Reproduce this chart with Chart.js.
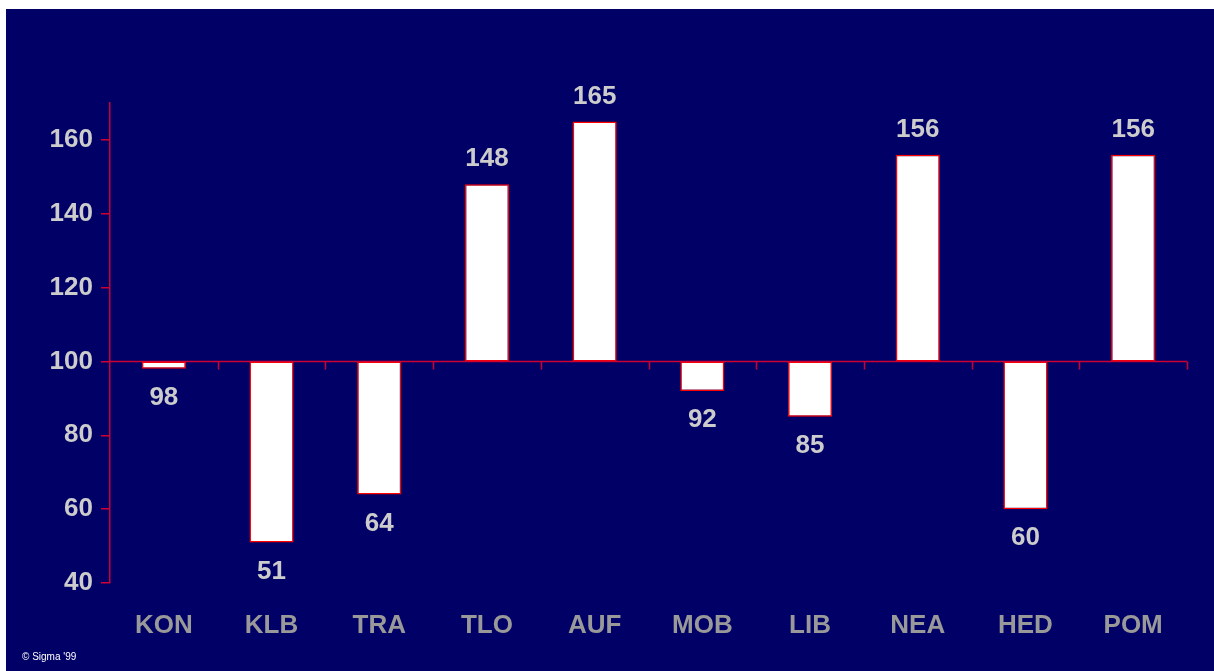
<!DOCTYPE html>
<html>
<head>
<meta charset="utf-8">
<script src="https://cdn.jsdelivr.net/npm/chart.js@4"></script>
<style>
html,body{margin:0;padding:0;background:#ffffff;width:1214px;height:671px;overflow:hidden;}
#wrap{position:absolute;left:6px;top:9px;width:1208px;height:662px;background:#000066;}
canvas{display:block;}
#copy{position:absolute;left:16px;top:642px;color:#ffffff;font:10px "Liberation Sans",Arial,sans-serif;}
</style>
</head>
<body>
<div id="wrap"><canvas id="c" width="1208" height="662"></canvas>
<div id="copy">© Sigma '99</div></div>
<script>
const categories = ['KON','KLB','TRA','TLO','AUF','MOB','LIB','NEA','HED','POM'];
const values = [98, 51, 64, 148, 165, 92, 85, 156, 60, 156];
const baseValue = 100;
const yTicks = [40, 60, 80, 100, 120, 140, 160];

const axisRed = '#cc0033';
const fontFam = '"Liberation Sans", Arial, sans-serif';

const baselinePlugin = {
  id: 'baseline',
  afterDatasetsDraw(chart) {
    const {ctx, scales: {x, y}, chartArea} = chart;
    const yp = Math.round(y.getPixelForValue(baseValue)) + 0.5;
    ctx.save();
    ctx.strokeStyle = axisRed;
    ctx.lineWidth = 1.5;
    ctx.beginPath();
    ctx.moveTo(chartArea.left, yp);
    ctx.lineTo(chartArea.right, yp);
    const half = (x.getPixelForValue(1) - x.getPixelForValue(0)) / 2;
    for (let i = 0; i < categories.length; i++) {
      const xp = Math.round(x.getPixelForValue(i) + half) + 0.5;
      ctx.moveTo(xp, yp);
      ctx.lineTo(xp, yp + 8);
    }
    ctx.stroke();
    ctx.restore();
  }
};

const labelPlugin = {
  id: 'valueLabels',
  afterDatasetsDraw(chart) {
    const {ctx, scales: {x, y}} = chart;
    ctx.save();
    ctx.fillStyle = '#cccccc';
    ctx.font = 'bold 26px ' + fontFam;
    ctx.textAlign = 'center';
    ctx.textBaseline = 'middle';
    values.forEach((v, i) => {
      const xp = x.getPixelForValue(i);
      const yp = y.getPixelForValue(v);
      const off = v >= baseValue ? -25 : 29;
      ctx.fillText(String(v), xp, yp + off);
    });
    ctx.restore();
  }
};

new Chart(document.getElementById('c'), {
  type: 'bar',
  data: {
    labels: categories,
    datasets: [{
      data: values.map(v => [baseValue, v]),
      backgroundColor: '#ffffff',
      borderColor: '#ff0000',
      borderWidth: 1.5,
      borderSkipped: false,
      categoryPercentage: 1.0,
      barPercentage: 0.41
    }]
  },
  options: {
    responsive: false,
    animation: false,
    layout: {padding: {left: 0, right: 27, top: 94, bottom: 0}},
    plugins: {legend: {display: false}, tooltip: {enabled: false}},
    scales: {
      x: {
        grid: {display: false, drawTicks: false},
        border: {display: false},
        ticks: {
          color: '#999999',
          font: {family: fontFam, size: 26, weight: 'bold'},
          padding: 27
        },
        afterFit(s) { s.height = 88; }
      },
      y: {
        min: 40,
        max: 170,
        afterBuildTicks(s) { s.ticks = yTicks.map(v => ({value: v})); },
        grid: {drawOnChartArea: false, color: axisRed, tickLength: 9, lineWidth: 1.5},
        border: {color: axisRed, width: 1.5},
        ticks: {
          color: '#cccccc',
          font: {family: fontFam, size: 26, weight: 'bold'},
          padding: 8
        },
        afterFit(s) { s.width = 104; }
      }
    }
  },
  plugins: [baselinePlugin, labelPlugin]
});
</script>
</body>
</html>
